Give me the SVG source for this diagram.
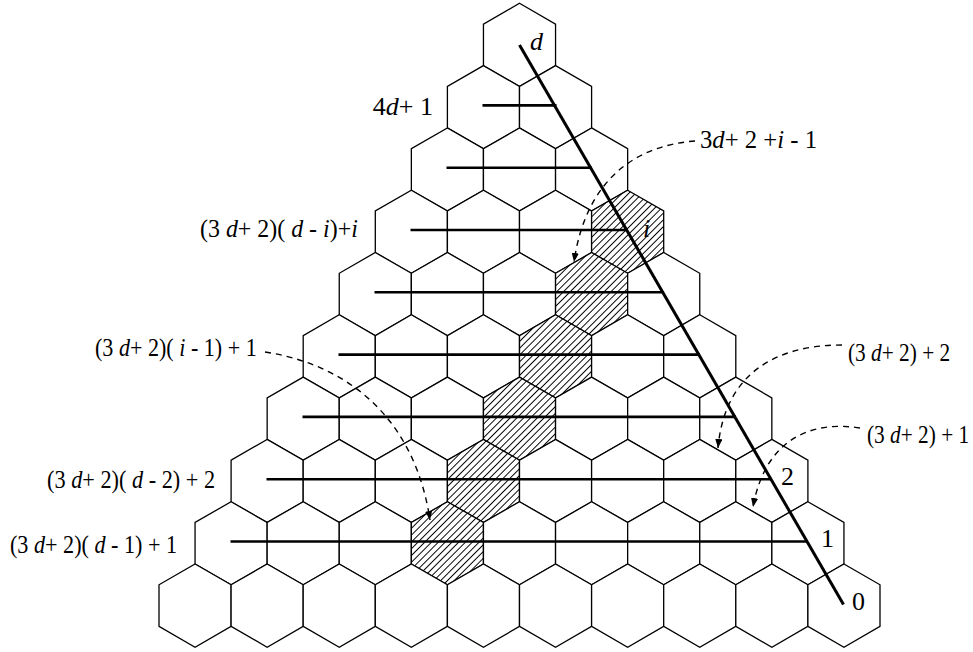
<svg xmlns="http://www.w3.org/2000/svg" xmlns:xlink="http://www.w3.org/1999/xlink" width="973" height="652" viewBox="0 0 973 652">
<style>
.hex{fill:#fff;stroke:#000;stroke-width:1.3;stroke-linejoin:miter}
.hx{fill:url(#hatch);stroke:#000;stroke-width:1.3}
.row{stroke:#000;stroke-width:2.6;fill:none}
.diag{stroke:#000;stroke-width:3;fill:none}
.dash{stroke:#000;stroke-width:1.4;fill:none;stroke-dasharray:6 5}
text{font-family:"Liberation Serif","Times New Roman",serif;font-size:26px;fill:#000}
.it{font-style:italic}
</style>
<defs>
<polygon id="hex" points="0,-41.6 36.05,-20.8 36.05,20.8 0,41.6 -36.05,20.8 -36.05,-20.8"/>
<pattern id="hatch" patternUnits="userSpaceOnUse" width="4.8" height="4.8" patternTransform="rotate(-45)">
<rect width="4.8" height="4.8" fill="#fff"/>
<line x1="-1" y1="2.4" x2="6" y2="2.4" stroke="#000" stroke-width="1"/>
</pattern>
<marker id="ah" viewBox="0 0 10 8" refX="10" refY="4" markerWidth="9" markerHeight="7.2" markerUnits="userSpaceOnUse" orient="auto">
<path d="M0,0 L10,4 L0,8 z" fill="#000"/>
</marker>
</defs>
<g id="hexes">
<g id="h0-0"><use href="#hex" class="hex" x="519.5" y="44.9"/></g>
<g id="h1-0"><use href="#hex" class="hex" x="483.45" y="107.2"/></g>
<g id="h1-1"><use href="#hex" class="hex" x="555.55" y="107.2"/></g>
<g id="h2-0"><use href="#hex" class="hex" x="447.4" y="169.5"/></g>
<g id="h2-1"><use href="#hex" class="hex" x="519.5" y="169.5"/></g>
<g id="h2-2"><use href="#hex" class="hex" x="591.6" y="169.5"/></g>
<g id="h3-0"><use href="#hex" class="hex" x="411.35" y="231.8"/></g>
<g id="h3-1"><use href="#hex" class="hex" x="483.45" y="231.8"/></g>
<g id="h3-2"><use href="#hex" class="hex" x="555.55" y="231.8"/></g>
<g id="h3-3"><use href="#hex" class="hx" x="627.65" y="231.8"/></g>
<g id="h4-0"><use href="#hex" class="hex" x="375.3" y="294.1"/></g>
<g id="h4-1"><use href="#hex" class="hex" x="447.4" y="294.1"/></g>
<g id="h4-2"><use href="#hex" class="hex" x="519.5" y="294.1"/></g>
<g id="h4-3"><use href="#hex" class="hx" x="591.6" y="294.1"/></g>
<g id="h4-4"><use href="#hex" class="hex" x="663.7" y="294.1"/></g>
<g id="h5-0"><use href="#hex" class="hex" x="339.25" y="356.4"/></g>
<g id="h5-1"><use href="#hex" class="hex" x="411.35" y="356.4"/></g>
<g id="h5-2"><use href="#hex" class="hex" x="483.45" y="356.4"/></g>
<g id="h5-3"><use href="#hex" class="hx" x="555.55" y="356.4"/></g>
<g id="h5-4"><use href="#hex" class="hex" x="627.65" y="356.4"/></g>
<g id="h5-5"><use href="#hex" class="hex" x="699.75" y="356.4"/></g>
<g id="h6-0"><use href="#hex" class="hex" x="303.2" y="418.7"/></g>
<g id="h6-1"><use href="#hex" class="hex" x="375.3" y="418.7"/></g>
<g id="h6-2"><use href="#hex" class="hex" x="447.4" y="418.7"/></g>
<g id="h6-3"><use href="#hex" class="hx" x="519.5" y="418.7"/></g>
<g id="h6-4"><use href="#hex" class="hex" x="591.6" y="418.7"/></g>
<g id="h6-5"><use href="#hex" class="hex" x="663.7" y="418.7"/></g>
<g id="h6-6"><use href="#hex" class="hex" x="735.8" y="418.7"/></g>
<g id="h7-0"><use href="#hex" class="hex" x="267.15" y="481"/></g>
<g id="h7-1"><use href="#hex" class="hex" x="339.25" y="481"/></g>
<g id="h7-2"><use href="#hex" class="hex" x="411.35" y="481"/></g>
<g id="h7-3"><use href="#hex" class="hx" x="483.45" y="481"/></g>
<g id="h7-4"><use href="#hex" class="hex" x="555.55" y="481"/></g>
<g id="h7-5"><use href="#hex" class="hex" x="627.65" y="481"/></g>
<g id="h7-6"><use href="#hex" class="hex" x="699.75" y="481"/></g>
<g id="h7-7"><use href="#hex" class="hex" x="771.85" y="481"/></g>
<g id="h8-0"><use href="#hex" class="hex" x="231.1" y="543.3"/></g>
<g id="h8-1"><use href="#hex" class="hex" x="303.2" y="543.3"/></g>
<g id="h8-2"><use href="#hex" class="hex" x="375.3" y="543.3"/></g>
<g id="h8-3"><use href="#hex" class="hx" x="447.4" y="543.3"/></g>
<g id="h8-4"><use href="#hex" class="hex" x="519.5" y="543.3"/></g>
<g id="h8-5"><use href="#hex" class="hex" x="591.6" y="543.3"/></g>
<g id="h8-6"><use href="#hex" class="hex" x="663.7" y="543.3"/></g>
<g id="h8-7"><use href="#hex" class="hex" x="735.8" y="543.3"/></g>
<g id="h8-8"><use href="#hex" class="hex" x="807.9" y="543.3"/></g>
<g id="h9-0"><use href="#hex" class="hex" x="195.05" y="605.6"/></g>
<g id="h9-1"><use href="#hex" class="hex" x="267.15" y="605.6"/></g>
<g id="h9-2"><use href="#hex" class="hex" x="339.25" y="605.6"/></g>
<g id="h9-3"><use href="#hex" class="hex" x="411.35" y="605.6"/></g>
<g id="h9-4"><use href="#hex" class="hex" x="483.45" y="605.6"/></g>
<g id="h9-5"><use href="#hex" class="hex" x="555.55" y="605.6"/></g>
<g id="h9-6"><use href="#hex" class="hex" x="627.65" y="605.6"/></g>
<g id="h9-7"><use href="#hex" class="hex" x="699.75" y="605.6"/></g>
<g id="h9-8"><use href="#hex" class="hex" x="771.85" y="605.6"/></g>
<g id="h9-9"><use href="#hex" class="hex" x="843.95" y="605.6"/></g>
</g>
<g id="connectors">
<line class="row" x1="482.5" y1="105.4" x2="556.5" y2="105.4"/>
<line class="row" x1="446.5" y1="167.7" x2="592" y2="167.7"/>
<line class="row" x1="410.5" y1="230" x2="628" y2="230"/>
<line class="row" x1="374.5" y1="292.3" x2="664" y2="292.3"/>
<line class="row" x1="338.5" y1="354.6" x2="700" y2="354.6"/>
<line class="row" x1="302.5" y1="416.9" x2="736" y2="416.9"/>
<line class="row" x1="266.5" y1="479.2" x2="772" y2="479.2"/>
<line class="row" x1="230.5" y1="541.5" x2="808" y2="541.5"/>
<line class="diag" x1="519.5" y1="44.9" x2="843.5" y2="604.5"/>
<path class="dash" d="M695,141 C630,146 585,185 574,262" marker-end="url(#ah)"/>
<path class="dash" d="M265,352 C350,365 415,420 430,520" marker-end="url(#ah)"/>
<path class="dash" d="M842,345 C780,345 725,370 718,448" marker-end="url(#ah)"/>
<path class="dash" d="M860,428 C810,420 765,440 753,507" marker-end="url(#ah)"/>
</g>
<g id="labels">
<text x="433" y="115" text-anchor="end">4<tspan class="it">d</tspan>+ 1</text>
<text transform="translate(700,148) scale(0.95,1)">3<tspan class="it">d</tspan>+ 2 +<tspan class="it">i</tspan> - 1</text>
<text transform="translate(200,237) scale(0.92,1)">(3 <tspan class="it">d</tspan>+ 2)( <tspan class="it">d</tspan> - <tspan class="it">i</tspan>)+<tspan class="it">i</tspan></text>
<text transform="translate(95,356) scale(0.85,1)">(3 <tspan class="it">d</tspan>+ 2)( <tspan class="it">i</tspan> - 1) + 1</text>
<text transform="translate(848,361) scale(0.82,1)">(3 <tspan class="it">d</tspan>+ 2) + 2</text>
<text transform="translate(867,443) scale(0.82,1)">(3 <tspan class="it">d</tspan>+ 2) + 1</text>
<text transform="translate(47,488) scale(0.857,1)">(3 <tspan class="it">d</tspan>+ 2)( <tspan class="it">d</tspan> - 2) + 2</text>
<text transform="translate(10,553) scale(0.852,1)">(3 <tspan class="it">d</tspan>+ 2)( <tspan class="it">d</tspan> - 1) + 1</text>
<text x="530" y="50" class="it">d</text>
<text x="643" y="237" class="it">i</text>
<text x="781" y="485">2</text>
<text x="821" y="547">1</text>
<text x="852" y="610">0</text>
</g>
</svg>
